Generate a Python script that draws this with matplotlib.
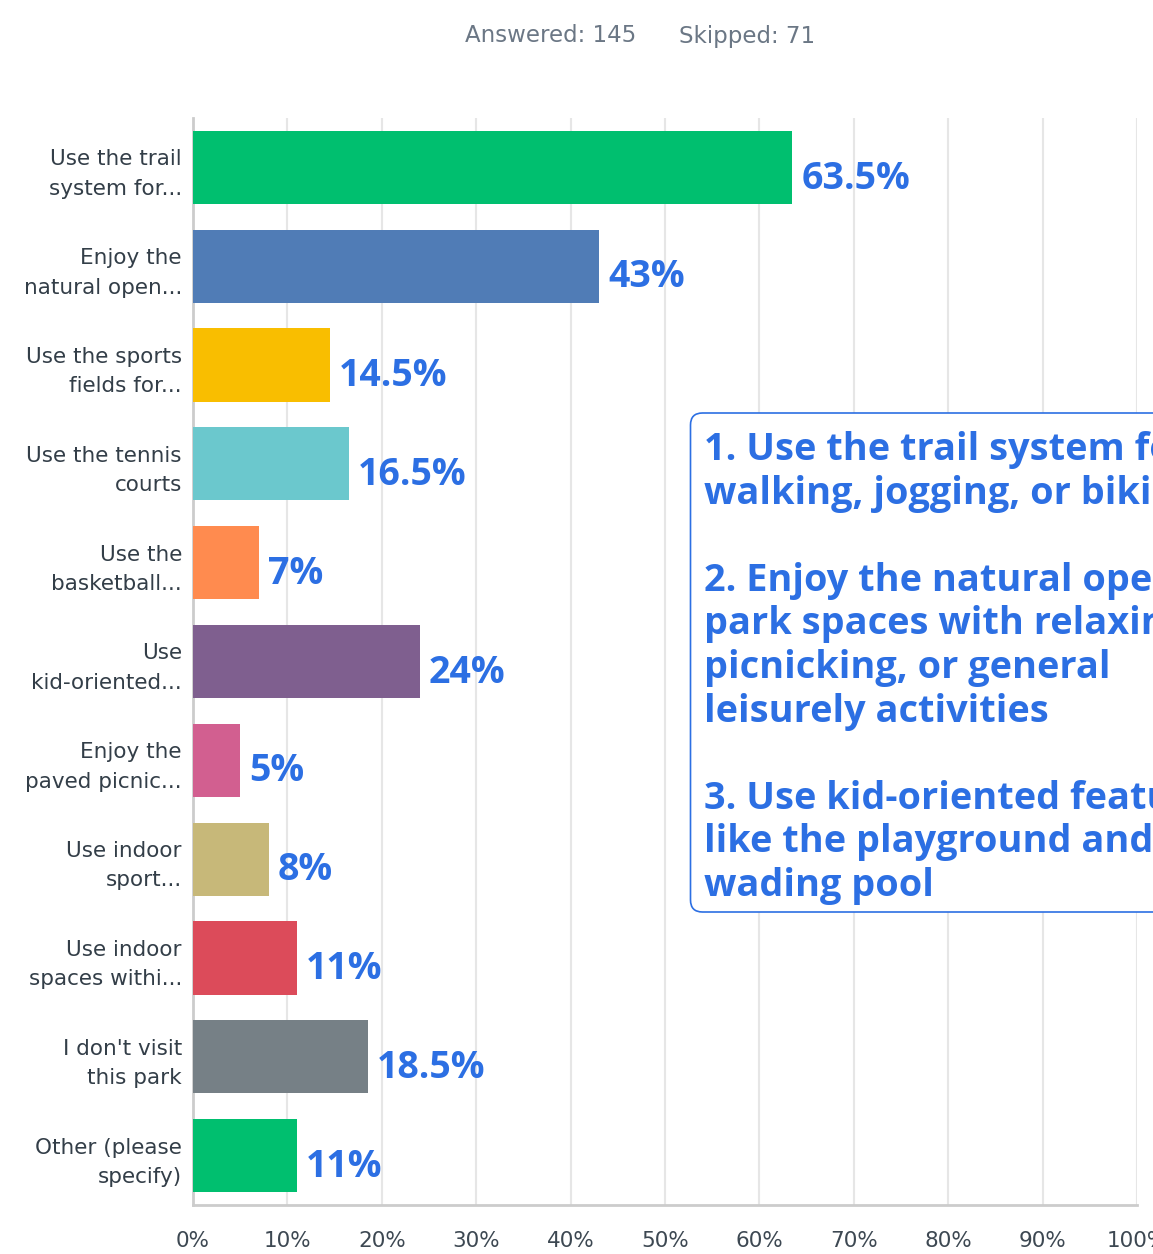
import matplotlib.pyplot as plt
from matplotlib.patches import FancyBboxPatch

# survey results
categories = [
    "Use the trail\nsystem for...",
    "Enjoy the\nnatural open...",
    "Use the sports\nfields for...",
    "Use the tennis\ncourts",
    "Use the\nbasketball...",
    "Use\nkid-oriented...",
    "Enjoy the\npaved picnic...",
    "Use indoor\nsport...",
    "Use indoor\nspaces withi...",
    "I don't visit\nthis park",
    "Other (please\nspecify)",
]
percents = [63.5, 43, 14.5, 16.5, 7, 24, 5, 8, 11, 18.5, 11]
value_labels = ["63.5%", "43%", "14.5%", "16.5%", "7%", "24%", "5%", "8%", "11%", "18.5%", "11%"]
bar_colors = ["#00bf6f", "#507cb6", "#f9be00", "#6bc8cd", "#ff8b4f", "#7f5f8f",
              "#d25f90", "#c7b879", "#dc4b5a", "#768086", "#00bf6f"]
x_ticks = [0, 10, 20, 30, 40, 50, 60, 70, 80, 90, 100]
x_tick_labels = [f"{t}%" for t in x_ticks]

header_answered = "Answered: 145"
header_skipped = "Skipped: 71"
note_lines = [
    "1. Use the trail system for",
    "walking, jogging, or biking",
    "",
    "2. Enjoy the natural open",
    "park spaces with relaxing,",
    "picnicking, or general",
    "leisurely activities",
    "",
    "3. Use kid-oriented features",
    "like the playground and",
    "wading pool",
]

W, H = 1153, 1254
fig = plt.figure(figsize=(W / 100, H / 100), dpi=100)
fig.patch.set_facecolor("white")

ax = fig.add_axes([193 / W, 1 - 1205 / H, (1137 - 193) / W, (1205 - 118) / H])
y = list(range(len(categories)))
ax.barh(y, percents, height=0.74, color=bar_colors, zorder=3)
ax.set_xlim(0, 100)
ax.set_ylim(len(categories) - 0.5, -0.5)

ax.set_xticks(x_ticks)
ax.set_xticklabels(x_tick_labels, fontsize=15.5, color="#3d4852", family="DejaVu Sans")
ax.tick_params(axis="x", length=0, pad=19)
ax.set_yticks(y)
ax.set_yticklabels(categories, fontsize=15.5, color="#333e48", family="DejaVu Sans")
ax.tick_params(axis="y", length=0, pad=8)
for t in ax.get_yticklabels():
    t.set_linespacing(1.58)
    t.set_horizontalalignment("right")

ax.grid(axis="x", color="#e6e6e6", linewidth=1.5, zorder=0)
ax.grid(axis="y", visible=False)
for s in ["top", "right"]:
    ax.spines[s].set_visible(False)
for s in ["left", "bottom"]:
    ax.spines[s].set_color("#cccccc")
    ax.spines[s].set_linewidth(2)

blue = "#2c6fe3"
for yi, v, lab in zip(y, percents, value_labels):
    ax.annotate(lab, (v, yi), xytext=(6.5, -8), textcoords="offset points",
                va="center", ha="left", fontsize=27, fontweight="bold",
                color=blue, family="Open Sans", zorder=4)

# overlay in pixel coordinates for header and note box
ov = fig.add_axes([0, 0, 1, 1], facecolor="none")
ov.set_xlim(0, W)
ov.set_ylim(H, 0)
ov.axis("off")

ov.text(551, 36, header_answered, ha="center", va="center", fontsize=16.5,
        color="#6b7785", family="DejaVu Sans")
ov.text(747, 36, header_skipped, ha="center", va="center", fontsize=16.5,
        color="#6b7785", family="DejaVu Sans")

box = FancyBboxPatch((690.5, 413), 520, 499, boxstyle="round,pad=0,rounding_size=12",
                     facecolor="white", edgecolor=blue, linewidth=1.2, zorder=5)
ov.add_patch(box)
for i, line in enumerate(note_lines):
    ov.text(704, 450 + i * 43.6, line, ha="left", va="center", fontsize=27.3,
            fontweight="bold", color=blue, family="Open Sans", zorder=6)

fig.savefig("out.png", dpi=100)
